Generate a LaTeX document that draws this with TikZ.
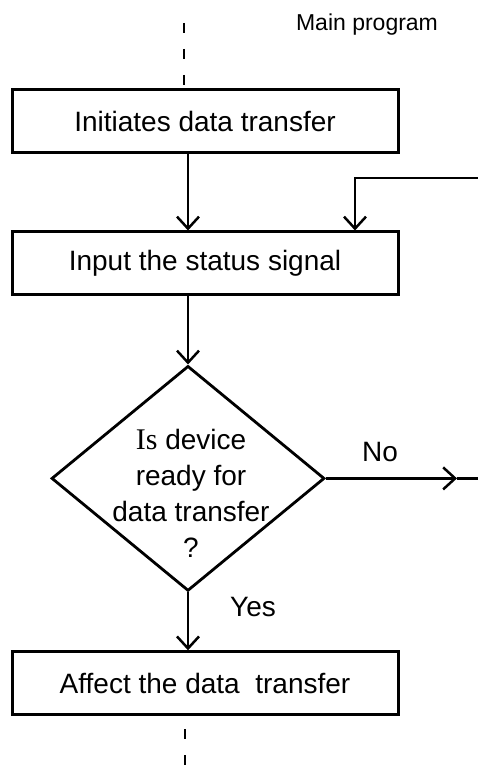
\documentclass[tikz,border=0pt]{standalone}
\usepackage{fontspec}
\setmainfont{Liberation Sans}
\newfontfamily\isfont{Liberation Serif}
\usetikzlibrary{arrows.meta, positioning, shapes.geometric}
\tikzset{
	pbox/.style={draw, line width=3pt, minimum width=386pt, minimum height=63pt,
		inner sep=0pt, font=\fontsize{28}{36}\selectfont},
	pdec/.style={draw, diamond, line width=2.8pt, minimum width=273pt,
		minimum height=225pt, inner sep=0pt},
	ptext/.style={align=center, font=\fontsize{28}{36}\selectfont},
	parr/.style={-{Straight Barb[length=12pt, width=22pt]}, line width=2.5pt},
	pdash/.style={line width=2.8pt, dash pattern=on 10pt off 16pt}
}
\begin{document}
\begin{tikzpicture}[x=1pt, y=1pt]
	\useasboundingbox (0,0) rectangle (478,780);
	\node[pbox] (init) at (205,658.5) {Initiates data transfer};
	\node[pbox, below=76pt of init] (input) {Input the status signal};
	\node[pdec, below=68pt of input.south, xshift=-17pt] (ready) {};
	\node[ptext] (question) at ([xshift=3pt, yshift=-15pt]ready.center)
		{{\isfont\fontsize{30}{36}\selectfont Is} device\\ready for\\data transfer\\?};
	\node[pbox, below=58pt of ready.south, xshift=17pt] (affect) {Affect the data\ \ transfer};
	\node[ptext, font=\fontsize{23}{28}\selectfont] (main) at (367,755) {Main program};
	\node[ptext] (no) at (380,328) {No};
	\node[ptext] (yes) at (253,173) {Yes};
	% entry and exit points
	\coordinate (top) at (184,757);
	\coordinate (bottom) at (185,0);
	\coordinate (back) at (478,602);
	\coordinate (notip) at (457,0);
	\coordinate (noend) at (478,0);
	\draw[pdash] (top) -- (top |- init.north);
	\draw[parr] ([xshift=-17pt]init.south) -- ([xshift=-17pt]input.north);
	\draw[parr] (back) -| ([xshift=150pt]input.north);
	\draw[parr] ([xshift=-17pt]input.south) -- (ready.north);
	\draw[parr] (ready.east) -- (ready.east -| notip);
	\draw[line width=2.5pt] (ready.east -| notip) -- (ready.east -| noend);
	\draw[parr] (ready.south) -- (ready.south |- affect.north);
	\draw[pdash] ([yshift=-13pt]bottom |- affect.south) -- (bottom);
\end{tikzpicture}
\end{document}
